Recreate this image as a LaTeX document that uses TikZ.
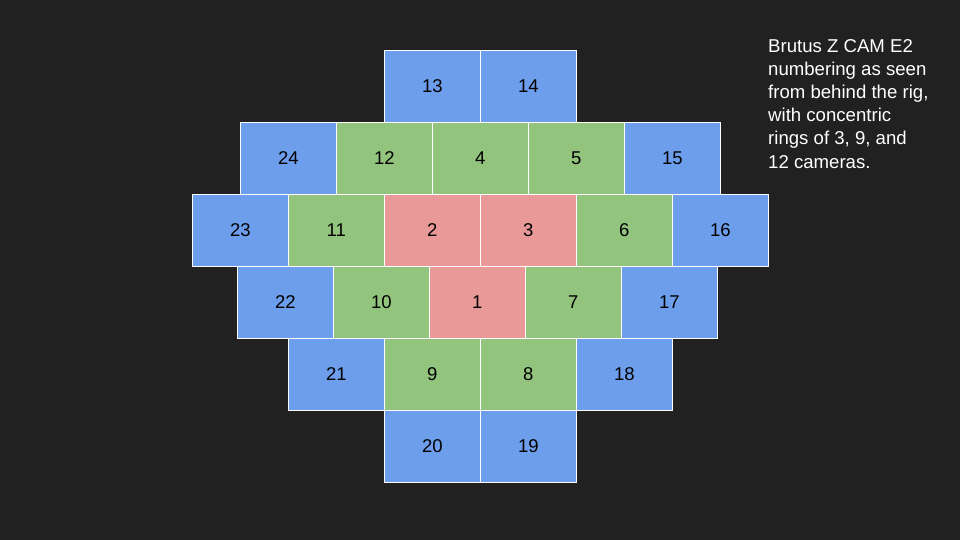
\documentclass[tikz,border=0pt]{standalone}
\usepackage{fontspec}
\setmainfont{Liberation Sans}
\usetikzlibrary{positioning}
\definecolor{bgdark}{HTML}{212121}
\definecolor{camblue}{HTML}{6D9EEB}
\definecolor{camgreen}{HTML}{93C47D}
\definecolor{camred}{HTML}{EA9999}
\begin{document}
\begin{tikzpicture}[x=1pt, y=-1pt,
  cam/.style={draw=white, line width=1.2pt, minimum width=96pt, minimum height=72pt, inner sep=0pt, font=\fontsize{18.5}{18.5}\selectfont, text=black},
  outer/.style={cam, fill=camblue},
  middle/.style={cam, fill=camgreen},
  inner/.style={cam, fill=camred}]
  % Background slide
  \fill[bgdark] (0,0) rectangle (960,540);

  % Outer ring of 12 cameras
  \node[outer] (c13) at (432.3,86.3) {13};
  \node[outer] (c14) at (528.3,86.3) {14};
  \node[outer] (c15) at (672.3,158.3) {15};
  \node[outer] (c16) at (720.3,230.3) {16};
  \node[outer] (c17) at (669.3,302.3) {17};
  \node[outer] (c18) at (624.3,374.3) {18};
  \node[outer] (c19) at (528.3,446.3) {19};
  \node[outer] (c20) at (432.3,446.3) {20};
  \node[outer] (c21) at (336.3,374.3) {21};
  \node[outer] (c22) at (285.3,302.3) {22};
  \node[outer] (c23) at (240.3,230.3) {23};
  \node[outer] (c24) at (288.3,158.3) {24};

  % Middle ring of 9 cameras
  \node[middle] (c4) at (480.3,158.3) {4};
  \node[middle] (c5) at (576.3,158.3) {5};
  \node[middle] (c6) at (624.3,230.3) {6};
  \node[middle] (c7) at (573.3,302.3) {7};
  \node[middle] (c8) at (528.3,374.3) {8};
  \node[middle] (c9) at (432.3,374.3) {9};
  \node[middle] (c10) at (381.3,302.3) {10};
  \node[middle] (c11) at (336.3,230.3) {11};
  \node[middle] (c12) at (384.3,158.3) {12};

  % Inner ring of 3 cameras
  \node[inner] (c1) at (477.3,302.3) {1};
  \node[inner] (c2) at (432.3,230.3) {2};
  \node[inner] (c3) at (528.3,230.3) {3};

  % Caption
  \node[anchor=north west, inner sep=0pt, align=left, text=white, font=\fontsize{18.6}{23.2}\selectfont] (caption) at (768,39) {
    Brutus Z CAM E2\\
    numbering as seen\\
    from behind the rig,\\
    with concentric\\
    rings of 3, 9, and\\
    12 cameras.
  };
\end{tikzpicture}
\end{document}
